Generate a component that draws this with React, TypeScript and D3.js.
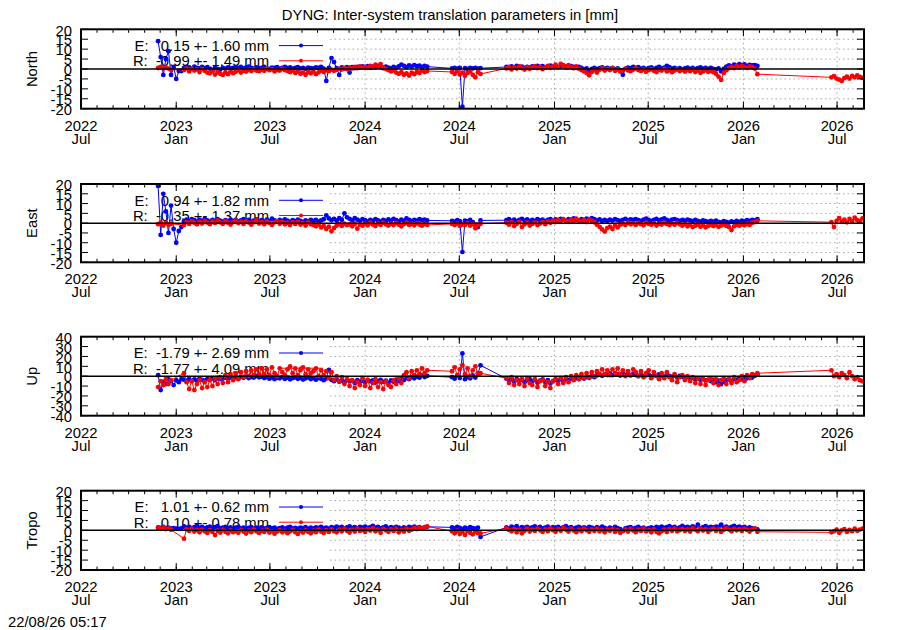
import React from "react";
import * as d3 from "d3";

const TITLE = "DYNG: Inter-system translation parameters in [mm]";
const STAMP = "22/08/26 05:17";
const X_START = "2022-07-01";
const X_END = "2026-08-22";
// start dates of the data segments; values are sampled every STEP_DAYS days
const SEG_STARTS = ["2022-11-27", "2024-06-17", "2024-09-30", "2026-06-20"];
const STEP_DAYS = 5;
const PANEL_NAMES = ["North", "East", "Up", "Tropo"];
const PANEL_LIMITS = [20, 20, 40, 20];
const PANEL_STEPS = [5, 5, 10, 5];
const LEGEND_E = ["E:   0.15 +- 1.60 mm", "E:   0.94 +- 1.82 mm", "E:  -1.79 +- 2.69 mm", "E:   1.01 +- 0.62 mm"];
const LEGEND_R = ["R:  -0.99 +- 1.49 mm", "R:  -0.35 +- 1.37 mm", "R:  -1.77 +- 4.09 mm", "R:   0.10 +- 0.78 mm"];

type V = number | null;
const N = null;

const northE: V[][] = [
  [14, 6, -3, 5, 9, -3, 1, -5, -1, -1,
   0.5, 1, 0.8, 0.2, 1.2, 0.6, 0.3, 1, 0.4, 0.9,
   0.2, -0.5, 0.5, 0.1, -0.3, 0.6, 0.2, 0.8, 0.3, 0.5,
   0.9, 0.4, 1.1, 0.3, 0.7, 1.2, 0.5, 0.2, 0.8, 0.4,
   0.6, 1.0, 0.3, 0.1, 0.7, 0.5, 0.9, 0.2, 0.6, 1.1,
   0.4, 0.8, 0.2, 0.5, 0.9, 0.3, 0.6, 0.1, 0.7, 0.4,
   0.3, 0.8, 0.5, 1.0, 0.2, -6, 0.6, 5.5, 3.5, 0.4,
   -3, 0.8, 0.3, 0.9, -1.8, 0.9, 0.4, 1.1, 0.7, 1.3,
   0.9, 1.4, 0.6, 1.2, 0.8, 1.5, 1.0, 0.4, 1.2, 0.7,
   0.3, 1.0, 0.5, 1.3, 2.2, 1.6, 0.9, 1.8, 1.2, 2.0,
   1.4, 1.7, 1.0, 1.6, 1.2],
  [0.3, 0.5, 0.2, 0.6, -19, 0.4, 0.1, 0.5, 0.3, 0.6, 0.2, 0.4],
  [1.0, 0.6, 1.3, 0.8, 1.5, 0.9, 1.2, 0.5, 1.1, 0.7,
   1.3, 0.9, 1.6, 1.0, 1.4, 0.8, 1.2, 1.7, 1.1, 1.5,
   0.9, 1.3, 1.8, 1.2, 0.8, 1.4, 1.0, 0.6, 1.1, 0.5,
   -0.2, 0.3, -0.9, 0.0, 0.5, -0.1, 0.4, 0.8, 0.2, 0.6,
   0.0, 0.5, -0.2, 0.3, -0.6, -2.9, 0.1, 0.7, 0.4, 1.0,
   0.5, 0.9, 0.2, 0.6, -0.1, 0.4, 0.8, 0.1, 0.5, 1.0,
   0.3, 0.7, 1.6, 0.9, 0.2, 0.6, 0.0, 0.4, -0.2, 0.3,
   0.7, 0.1, 0.5, -0.1, 0.4, 0.8, 0.2, 0.6, 0.0, 0.5,
   0.1, -0.2, 0.3, -1.2, 0.0, 1.2, 1.8, 1.4, 2.2, 1.7,
   2.4, 1.9, 2.3, 1.6, 2.1, 1.8, 2.0, 1.5],
  [],
];
const northR: V[][] = [
  [0.5, 1, 0.3, 0.8, 0.2, -0.4, N, N, N, N,
   -0.5, 0.3, -1.2, 0.2, -0.8, -0.2, -1.5, 0.1, -0.9, -1.8,
   -2.2, -1.0, -2.8, -1.5, -2.4, -3.0, -1.7, -2.6, -1.2, -2.1,
   -1.4, -0.6, -1.8, -0.9, -1.3, -0.4, -1.0, -0.2, -0.8, -1.1,
   -0.3, -0.9, 0.2, -0.6, -0.1, -1.2, -0.4, -0.8, 0.1, -0.5,
   -1.0, -1.6, -0.7, -2.0, -1.3, -2.4, -1.8, -2.9, -1.5, -2.2,
   -1.2, -2.6, -1.7, -0.8, -1.5, -0.6, -1.1, -0.3, -0.9, -0.4,
   0.2, -0.3, 0.5, -0.1, 0.8, 0.3, 1.0, 0.4, 1.3, 0.7,
   1.1, 0.6, 1.6, 0.9, 2.2, 1.3, 2.5, 0.8, 0.1, -0.6,
   -1.2, -0.5, -1.8, -2.4, -1.6, -2.9, -2.2, -3.3, -1.9, -2.6,
   -1.4, -2.0, -0.8, -1.5, -1.0],
  [-1.5, -2.4, -1.0, -2.8, -1.8, -3.4, -2.0, -1.2, -2.9, -4.2, -1.6, -2.5],
  [0.3, 1.0, -0.2, 0.8, 0.2, 1.3, 0.5, -0.3, 0.9, 0.1,
   0.7, 1.4, 0.4, 1.1, -0.1, 0.8, 1.6, 0.6, 1.2, 2.2,
   1.0, 2.6, 1.5, 0.7, 1.9, 1.1, 0.4, 1.3, 0.2, -0.5,
   -1.2, -2.0, -3.2, -1.5, -0.6, -1.8, -0.4, 0.3, -0.8, 0.1,
   -0.5, 0.4, -0.9, -0.2, -1.3, -0.6, 0.2, -0.7, -1.1, -0.3,
   0.3, -0.5, -1.0, -0.2, -1.4, -0.6, -0.1, -0.9, -1.5, -0.4,
   -0.8, 0.1, -1.2, -0.5, -1.6, -0.7, -0.2, -1.0, -0.4, -1.3,
   -0.6, -1.1, -0.3, -1.5, -0.8, -1.9, -1.2, -0.5, -1.4, -0.9,
   -1.6, -2.4, -3.8, -5.5, -2.0, -0.6, 0.4, 1.0, 0.5, 1.4,
   0.8, 1.6, 1.1, 0.6, 1.3, 0.9, 0.2, -2.6],
  [-4.2, -3.6, -4.8, -5.4, -6.0, -4.6, -3.9, -4.8, -3.5, -4.2, -3.2, -4.0, -4.5],
];

const eastE: V[][] = [
  [19, -6, 15, 6, -5, 9, -3, -10, -4, -2,
   1.0, 1.8, 1.2, 2.0, 1.5, 0.8, 1.7, 1.1, 2.2, 1.4,
   0.9, 1.6, 1.2, 2.0, 1.3, 0.7, 1.5, 1.0, 1.8, 1.2,
   1.6, 0.9, 1.4, 2.1, 1.1, 1.7, 0.8, 1.3, 1.9, 1.0,
   1.5, 0.9, 1.8, 1.2, 2.3, 1.4, 0.8, 1.6, 1.1, 1.9,
   1.3, 0.7, 1.5, 1.0, 1.8, 1.2, 0.6, 1.4, 0.9, 1.7,
   1.1, 1.6, 0.8, 1.4, 2.0, 4.0, 2.4, 1.5, 2.2, 1.3,
   2.5, 1.6, 5.0, 3.0, 2.2, 1.4, 2.6, 1.8, 1.2, 2.0,
   1.5, 0.9, 1.7, 1.2, 2.1, 1.4, 0.8, 1.6, 1.1, 1.9,
   1.3, 2.2, 1.5, 0.9, 1.8, 1.2, 2.4, 1.6, 1.0, 1.7,
   1.3, 2.0, 1.5, 1.8, 1.4],
  [1.2, 0.8, 1.5, 1.0, -14.7, 1.3, 0.9, 1.6, 0.5, -0.8, -2.0, 1.4],
  [1.5, 2.0, 1.2, 1.8, 1.0, 1.6, 2.2, 1.3, 1.9, 1.1,
   1.7, 1.2, 2.0, 1.4, 1.8, 1.0, 1.6, 2.1, 1.3, 1.9,
   1.5, 2.2, 1.8, 1.2, 2.0, 1.6, 2.4, 1.7, 1.3, 2.0,
   1.6, 2.3, 1.8, 2.6, 2.0, 1.4, 1.9, 1.1, 1.6, 1.2,
   1.8, 1.3, 2.0, 1.5, 1.1, 1.7, 2.2, 1.4, 1.9, 1.6,
   2.1, 1.5, 1.2, 1.8, 2.3, 1.6, 1.0, 1.7, 2.2, 1.4,
   1.9, 2.4, 1.6, 1.2, 1.8, 2.1, 1.5, 1.1, 1.7, 1.3,
   1.8, 1.4, 1.0, 1.6, 1.2, 0.8, 1.4, 1.0, 0.6, 1.2,
   0.8, 1.3, 0.7, 0.4, 1.0, 0.6, 0.3, 0.9, 0.5, 1.1,
   0.7, 1.3, 0.9, 1.5, 1.1, 1.7, 1.4, 2.0],
  [],
];
const eastR: V[][] = [
  [-0.5, 0.3, -1.2, 0.2, -0.8, -0.3, N, N, N, N,
   -1.0, 0.5, -0.4, 1.0, 0.2, -0.6, 0.8, -0.2, 1.2, 0.3,
   -0.5, 0.9, 0.1, 1.4, 0.4, -0.3, 1.1, 0.2, -0.7, 0.6,
   1.3, 0.0, 0.8, -0.4, 1.0, 0.3, -0.8, 0.5, 1.5, -0.2,
   0.6, -0.5, 0.9, 0.1, -0.9, 0.4, 1.0, -0.3, 0.7, -0.6,
   0.2, -1.0, 0.5, -0.4, 0.8, -0.7, 0.1, -1.2, 0.4, -0.5,
   -0.9, -1.6, -0.6, -2.2, -1.4, -3.0, -1.8, -4.2, -2.5, -1.2,
   -0.5, -1.4, -0.2, -1.0, -0.6, -1.6, -0.3, -2.8, -0.8, -1.3,
   -0.4, -1.1, 0.2, -0.7, -1.5, -0.2, -0.9, 0.3, -0.6, -1.2,
   -0.3, -1.0, 0.1, -0.8, -1.6, -0.4, 0.2, -0.9, -0.3, -1.1,
   0.0, -0.7, -1.3, -0.4, -0.9],
  [-0.4, -1.0, -0.2, -1.4, -0.6, -0.9, 0.1, -1.2, -0.5, -2.6, -0.8, -0.3],
  [0.2, -0.8, 0.5, -1.5, -0.3, 0.6, -2.0, -0.6, 0.3, -1.2,
   -0.4, 0.4, -1.0, -0.2, 0.7, -0.5, 0.9, 0.2, 1.3, 0.6,
   1.6, 0.9, 2.0, 1.2, 0.7, 1.8, 1.0, 2.3, 1.4, 0.8,
   1.5, 0.6, 1.9, 1.1, 0.4, -0.8, -1.9, -3.2, -4.3, -2.5,
   -1.8, -3.0, -1.2, -2.2, -0.8, -0.3, -1.0, 0.2, -0.6, -0.1,
   -0.9, 0.1, -0.5, -1.1, 0.3, -0.4, -0.8, 0.0, -1.2, -0.3,
   -0.7, 0.2, -0.4, -1.0, -0.2, -0.8, 0.1, -0.6, -1.3, -0.5,
   -1.6, -0.9, -2.0, -1.3, -0.7, -1.8, -1.1, -2.2, -1.4, -0.8,
   -1.5, -1.0, -1.9, -1.2, -0.6, -1.4, -2.0, -3.5, -1.6, -0.9,
   -1.3, -0.6, -1.1, -0.4, -0.9, 0.2, 0.6, 1.2],
  [0.5, -2.0, 1.2, 2.6, 0.8, 1.8, 0.4, 2.2, 1.0, 2.8, 1.5, 0.9, 2.4],
];

const upE: V[][] = [
  [1, -14, -6, -8, -3, -5, -9, -4, -6, -3,
   -3.5, -4.5, -2.8, -5.0, -3.2, -4.2, -2.5, -3.8, -4.6, -2.9,
   -3.4, -2.2, -4.0, -1.8, -3.0, -2.4, -1.5, -2.7, -1.2, -2.0,
   -1.0, -2.3, -0.6, -1.6, -0.4, -1.9, -0.8, -1.3, 0.2, -1.1,
   -0.5, -1.8, -0.9, -2.5, -1.2, -3.0, -1.6, -2.2, -0.9, -2.8,
   -1.4, -3.2, -2.0, -1.1, -2.6, -1.7, -3.4, -2.1, -1.3, -2.9,
   -2.0, -3.5, -1.8, -2.7, -4.0, -2.3, 6.5, -3.8, -5.0, -3.2,
   -5.5, -4.2, -6.2, -3.6, -5.0, -4.4, -6.8, -3.9, -5.4, -4.6,
   -6.0, -3.8, -5.2, -4.3, -6.5, -5.0, -3.7, -5.8, -4.5, -7.0,
   -4.2, -5.6, -3.5, -4.8, -2.6, -3.9, -1.8, -3.0, -0.9, -2.2,
   -0.4, -1.5, 0.8, -0.8, 0.3],
  [-1.0, -2.5, 0.5, -1.8, 23, -3.0, -0.6, -2.2, 0.8, -1.4, 2.5, 11],
  [-2.5, -4.0, -3.2, -5.5, -2.8, -4.6, -3.5, -6.0, -4.2, -3.0,
   -5.2, -3.8, -6.4, -4.5, -3.3, -5.8, -4.0, -7.2, -5.0, -3.6,
   -4.8, -3.0, -5.5, -2.6, -4.0, -2.2, -3.5, -1.8, -2.9, -1.2,
   -2.4, -0.8, -1.6, 0.2, -1.0, 0.8, 1.6, 0.4, 2.2, 1.2,
   2.8, 1.0, 3.2, 1.8, 0.6, 2.4, 1.4, 3.0, 0.8, 2.0,
   1.2, 0.2, 1.8, -0.4, 0.9, 1.6, -0.2, 1.0, 0.4, 1.9,
   0.6, -0.5, 1.3, 0.2, -0.8, 0.7, -1.4, 0.3, -0.6, -1.8,
   -1.0, -2.4, -1.6, -3.0, -2.2, -3.6, -2.8, -4.2, -3.4, -5.0,
   -3.8, -6.0, -4.6, -8.0, -5.4, -4.0, -3.2, -4.8, -2.6, -3.8,
   -2.0, -3.0, -1.2, -2.2, -0.6, -1.4, 0.4, 1.5],
  [],
];
const upR: V[][] = [
  [-11, -5, -9, -3, -8, -4, N, N, N, N,
   3, -6, -13, -5, -14, -8, -4, -12, -6, -11,
   -4, -10, -2, -8, -1, -7, 1, -6, 2, -4,
   3, -3, 4, -1, 5, 0, 6, 1, 7, 2,
   8, 2, 7, 1, 9, 3, 0, 8, 4, 1,
   7, 10, 3, 8, 1, 6, 9, 2, 7, 3,
   5, 8, 0, 6, 1, 5, -2, 4, -4, 0,
   -5, -1, -8, -3, -10, -4, -12, -6, -9, -2,
   -10, -4, -12, -7, -3, -11, -6, -13, -5, -9,
   -11, -4, -8, -2, -7, 1, 4, -2, 5, 1,
   6, 2, 8, 3, 6],
  [5, 9, 1, 7, 11, 2, 8, 0, 6, 10, 3, 3],
  [-2, -7, -1, -9, -4, -8, -3, -10, -2, -7,
   -9, -3, -11, -5, -4, -10, -6, -12, -5, -3,
   -8, -2, -7, -1, -6, 0, -4, 1, -3, 2,
   -2, 3, -1, 4, 0, 5, 2, 7, 2, 6,
   1, 7, 3, 8, 2, 6, 0, 5, 1, 7,
   4, 0, 5, -1, 3, 6, -2, 4, 0, -3,
   3, -2, 4, -1, -4, 2, -6, -1, 1, -4,
   0, -5, -1, -7, -2, -8, -3, -9, -4, -2,
   -7, -3, -9, -4, -2, -8, -3, -7, -1, -6,
   -4, 0, -5, 1, -2, 2, 1, 3],
  [6, 0, 2, -1, 3, 1, -2, 4, 0, -3, -1, -4, -5],
];

const tropoE: V[][] = [
  [1.5, 1.2, 1.8, 1.0, 1.4, 0.9, 1.1, 0.8, 0.7, 1.0,
   2.0, 1.4, 1.8, 1.1, 1.6, 2.2, 1.3, 1.7, 1.0, 1.5,
   1.9, 1.2, 1.6, 2.1, 1.0, 1.4, 1.8, 1.1, 1.5, 0.9,
   1.3, 1.7, 1.0, 1.4, 0.8, 1.2, 1.6, 0.9, 1.3, 1.1,
   1.5, 0.8, 1.2, 1.6, 1.0, 1.4, 0.7, 1.1, 1.5, 0.9,
   1.3, 1.7, 1.0, 1.2, 0.8, 1.4, 1.1, 1.6, 0.9, 1.3,
   1.0, 1.5, 1.2, 1.8, 1.1, 1.4, 0.9, 1.6, 1.2, 1.9,
   1.3, 1.7, 1.0, 1.5, 2.0, 1.2, 1.6, 1.1, 1.8, 1.4,
   1.9, 1.2, 1.6, 2.2, 1.3, 1.7, 1.0, 1.5, 2.0, 1.1,
   1.6, 1.2, 1.8, 1.4, 0.9, 1.5, 1.1, 1.7, 1.3, 1.9,
   1.2, 1.6, 1.0, 1.4, 1.8],
  [1.5, 1.0, 1.8, 1.2, 0.6, 1.4, 0.9, 1.6, 1.1, 0.8, 1.3, -3.3],
  [1.5, 1.0, 1.9, 1.3, 2.1, 0.9, 1.6, 1.2, 1.8, 1.1,
   1.5, 2.0, 1.2, 1.7, 1.0, 1.4, 1.9, 1.1, 1.6, 1.3,
   1.8, 1.0, 1.5, 2.1, 1.2, 1.6, 0.9, 1.4, 1.7, 1.1,
   1.5, 1.0, 1.8, 1.3, 0.8, 1.6, 1.1, 1.9, 1.2, 0.7,
   1.4, 0.9, 1.7, 1.1, 0.6, -0.3, 1.0, 1.3, 1.6, 0.8,
   1.2, 1.8, 0.9, 1.4, 0.7, 1.1, 1.5, 1.0, 1.7, 1.3,
   1.9, 1.2, 1.6, 2.1, 1.3, 1.7, 1.0, 1.5, 2.2, 1.5,
   1.7, 1.3, 2.0, 1.4, 2.9, 1.1, 1.6, 2.1, 1.4, 1.8,
   1.5, 1.9, 1.7, 2.9, 1.4, 1.9, 1.2, 1.7, 2.3, 1.5,
   1.9, 1.3, 1.7, 1.1, 1.5, 1.0, 0.7, 0.5],
  [],
];
const tropoR: V[][] = [
  [1.2, 0.8, 1.5, 0.6, 1.0, 0.3, N, N, N, N,
   -4.2, 0.5, -0.3, 0.8, -0.6, 0.2, -1.0, 0.4, -0.5, -1.3,
   0.1, -0.8, -2.4, -0.2, -1.1, 0.3, -0.7, -1.5, 0.0, -0.9,
   -0.4, -1.2, 0.2, -0.6, -1.6, -0.1, -0.9, 0.4, -0.5, -1.3,
   -0.2, -0.8, 0.3, -1.1, -0.4, -1.7, -0.6, 0.1, -1.0, -0.3,
   -1.4, -0.5, 0.2, -0.9, -1.8, -0.3, -1.1, 0.0, -0.7, -1.5,
   -0.2, -0.9, 0.4, -0.6, -1.3, 0.1, -0.8, 0.5, -0.4, -1.0,
   0.3, -0.5, 0.8, -0.2, -1.1, 0.4, -0.6, 0.9, -0.3, 0.2,
   -0.8, 0.6, -0.1, 1.0, -0.5, 0.3, -1.2, 0.7, 0.0, -0.7,
   0.5, -0.3, 0.9, -1.0, 0.2, -0.6, 0.8, -0.2, 0.4, 1.2,
   0.6, 1.4, 0.8, 1.6, 2.0],
  [-0.5, -1.5, -0.2, -1.8, -0.8, -2.3, -0.4, -1.2, -2.0, -0.6, -1.4, -1.5],
  [1.0, 0.2, -0.5, 0.6, -1.0, 0.3, -1.5, -0.2, 0.8, -0.6,
   0.4, -0.3, 0.9, 0.0, -0.8, 0.5, -0.4, 1.0, 0.1, -0.7,
   0.6, -0.2, 1.1, 0.3, -0.6, 0.7, -0.1, -0.9, 0.4, -0.4,
   0.8, 0.0, -0.7, 0.5, -0.3, 0.9, -0.5, 0.2, -1.0, 0.4,
   -0.2, 0.6, -0.8, 0.1, -1.2, -0.4, 0.3, -0.6, 0.7, -0.1,
   -0.9, 0.4, -0.3, 0.8, -0.5, 0.2, -1.0, 0.5, -0.7, -1.5,
   -0.4, 0.3, -0.8, 0.6, -0.2, 0.9, -0.5, 0.1, 0.7, -0.3,
   0.5, -0.6, 1.0, 0.2, -0.4, 0.8, -0.1, 0.6, -0.7, 0.3,
   0.9, -0.2, 0.5, -0.8, 0.2, 1.1, 0.4, -0.5, 0.7, 0.0,
   0.6, -0.3, 0.9, 0.2, -0.6, 0.4, 1.0, -0.7],
  [-1.0, -0.5, 0.3, -1.2, 0.0, 0.6, -0.8, 0.2, -0.4, 0.8, -0.2, 0.4, 0.9],
];

const SERIES_E = [northE, eastE, upE, tropoE];
const SERIES_R = [northR, eastR, upR, tropoR];

// layout
const W = 900, H = 630;
const X0 = 81, X1 = 864;
const GRID_X0 = 330;
const PANEL_TOPS = [29.3, 184, 336.7, 490.7];
const PANEL_BOTTOMS = [108.7, 262.3, 415.7, 570];
const FONT = "'Liberation Sans', Arial, Helvetica, sans-serif";
const FS = 14.8;
const BLUE = "#0000ff";
const RED = "#ff0000";
const PT_R = 2.4;

const parse = d3.timeParse("%Y-%m-%d");
const x = d3.scaleTime().domain([parse(X_START)!, parse(X_END)!]).range([X0, X1]);
const majorTicks = d3.timeMonth.every(6)!.range(parse(X_START)!, d3.timeDay.offset(parse(X_END)!, 1));
const minorTicks = d3.timeMonth.range(parse(X_START)!, parse(X_END)!);
const fmtY = d3.timeFormat("%Y");
const fmtM = d3.timeFormat("%b");

type P = { d: Date; v: number };
function toPoints(segs: V[][]): P[] {
  const out: P[] = [];
  segs.forEach((seg, si) => {
    const s = parse(SEG_STARTS[si])!;
    seg.forEach((v, i) => {
      if (v !== null && v !== undefined) out.push({ d: d3.timeDay.offset(s, i * STEP_DAYS), v });
    });
  });
  return out;
}

function Panel({ idx }: { idx: number }) {
  const top = PANEL_TOPS[idx];
  const bottom = PANEL_BOTTOMS[idx];
  const lim = PANEL_LIMITS[idx];
  const step = PANEL_STEPS[idx];
  const y = d3.scaleLinear().domain([-lim, lim]).range([bottom, top]);
  const yTicks = d3.range(-lim, lim + step / 2, step);
  const line = d3.line<P>().x((p) => x(p.d)).y((p) => y(p.v));
  const ptsE = toPoints(SERIES_E[idx]);
  const ptsR = toPoints(SERIES_R[idx]);
  const clipId = `clip${idx}`;
  const row1 = top + 16.3;
  const row2 = top + 31.5;
  const mid = (top + bottom) / 2;
  return (
    <g>
      <defs>
        <clipPath id={clipId}>
          <rect x={X0} y={top} width={X1 - X0} height={bottom - top} />
        </clipPath>
      </defs>
      {/* grid */}
      <g stroke="#a8a8a8" strokeWidth={1} strokeDasharray="1.5,3">
        {yTicks.filter((t) => t !== 0 && Math.abs(t) !== lim).map((t) => (
          <line key={"gy" + t} x1={GRID_X0} x2={X1} y1={y(t)} y2={y(t)} />
        ))}
        {majorTicks.filter((d) => x(d) > GRID_X0 && x(d) < X1 - 1).map((d) => (
          <line key={"gx" + d.getTime()} x1={x(d)} x2={x(d)} y1={top} y2={bottom} />
        ))}
      </g>
      {/* legend */}
      <g fontFamily={FONT} fontSize={FS} fill="#000">
        <text x={269} y={row1} dy="0.36em" textAnchor="end" style={{ whiteSpace: "pre" }}>{LEGEND_E[idx]}</text>
        <text x={269} y={row2} dy="0.36em" textAnchor="end" style={{ whiteSpace: "pre" }}>{LEGEND_R[idx]}</text>
      </g>
      <line x1={279} x2={323} y1={row1} y2={row1} stroke={BLUE} strokeWidth={1} />
      <circle cx={301} cy={row1} r={2} fill={BLUE} />
      <line x1={279} x2={323} y1={row2} y2={row2} stroke={RED} strokeWidth={1} />
      <circle cx={301} cy={row2} r={2} fill={RED} />
      {/* data */}
      <g clipPath={`url(#${clipId})`}>
        <path d={line(ptsE) || ""} fill="none" stroke={BLUE} strokeWidth={1} />
        {ptsE.map((p, i) => (
          <circle key={"e" + i} cx={x(p.d)} cy={y(p.v)} r={PT_R} fill={BLUE} />
        ))}
        <path d={line(ptsR) || ""} fill="none" stroke={RED} strokeWidth={1} />
        {ptsR.map((p, i) => (
          <circle key={"r" + i} cx={x(p.d)} cy={y(p.v)} r={PT_R} fill={RED} />
        ))}
      </g>
      {/* zero line */}
      <line x1={X0} x2={X1} y1={y(0)} y2={y(0)} stroke="#000" strokeWidth={1.5} />
      {/* ticks */}
      <g stroke="#000" strokeWidth={1}>
        {minorTicks.map((d) => (
          <g key={"mt" + d.getTime()}>
            <line x1={x(d)} x2={x(d)} y1={bottom} y2={bottom - 3.5} />
            <line x1={x(d)} x2={x(d)} y1={top} y2={top + 3.5} />
          </g>
        ))}
        {majorTicks.map((d) => (
          <g key={"Mt" + d.getTime()}>
            <line x1={x(d)} x2={x(d)} y1={bottom} y2={bottom - 7} />
            <line x1={x(d)} x2={x(d)} y1={top} y2={top + 7} />
          </g>
        ))}
        {yTicks.map((t) => (
          <g key={"yt" + t}>
            <line x1={X0} x2={X0 + 7} y1={y(t)} y2={y(t)} />
            <line x1={X1} x2={X1 - 7} y1={y(t)} y2={y(t)} />
          </g>
        ))}
      </g>
      <rect x={X0} y={top} width={X1 - X0} height={bottom - top} fill="none" stroke="#000" strokeWidth={2} />
      {/* tick labels */}
      <g fontFamily={FONT} fontSize={FS} fill="#000">
        {yTicks.map((t) => (
          <text key={"yl" + t} x={72} y={y(t)} dy="0.42em" textAnchor="end">{t}</text>
        ))}
        {majorTicks.map((d) => (
          <text key={"xl" + d.getTime()} x={x(d)} textAnchor="middle">
            <tspan x={x(d)} y={bottom + 22}>{fmtY(d)}</tspan>
            <tspan x={x(d)} y={bottom + 35}>{fmtM(d)}</tspan>
          </text>
        ))}
        <text transform={`translate(36.5,${mid}) rotate(-90)`} textAnchor="middle">{PANEL_NAMES[idx]}</text>
      </g>
    </g>
  );
}

export default function App() {
  return (
    <svg width={W} height={H} viewBox={`0 0 ${W} ${H}`} style={{ position: "absolute", left: 0, top: 0, background: "#fff" }}>
      <rect x={0} y={0} width={W} height={H} fill="#fff" />
      <text x={450} y={19.5} textAnchor="middle" fontFamily={FONT} fontSize={FS} fill="#000">{TITLE}</text>
      {PANEL_NAMES.map((_, i) => (
        <Panel key={i} idx={i} />
      ))}
      <text x={8} y={627} fontFamily={FONT} fontSize={FS} fill="#000">{STAMP}</text>
    </svg>
  );
}
